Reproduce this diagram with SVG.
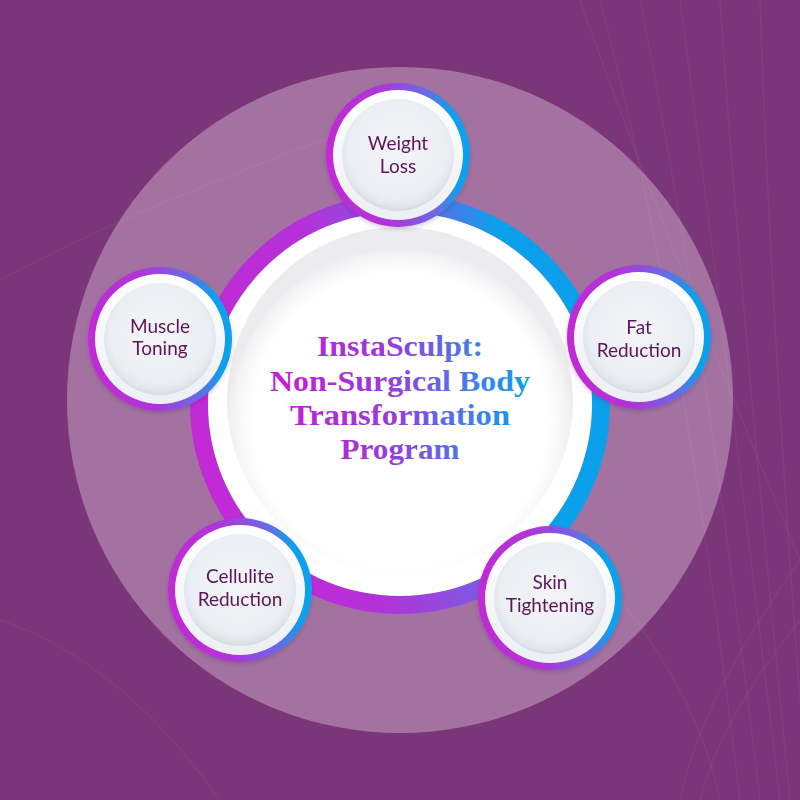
<svg xmlns="http://www.w3.org/2000/svg" width="800" height="800" viewBox="0 0 800 800">
<defs>
<linearGradient id="ringGrad" x1="0" y1="0.6" x2="1" y2="0.4">
<stop offset="0" stop-color="#C22AD6"/>
<stop offset="0.35" stop-color="#B530D9"/>
<stop offset="0.62" stop-color="#7A5CE3"/>
<stop offset="0.82" stop-color="#0BA0EC"/>
<stop offset="1" stop-color="#0BA0EC"/>
</linearGradient>
<linearGradient id="smallGrad" x1="0" y1="0.55" x2="1" y2="0.45">
<stop offset="0" stop-color="#C22AD6"/>
<stop offset="0.4" stop-color="#B133D9"/>
<stop offset="0.72" stop-color="#6C68E5"/>
<stop offset="0.9" stop-color="#0BA0EC"/>
<stop offset="1" stop-color="#0BA0EC"/>
</linearGradient>
<radialGradient id="centerDisc" cx="0.5" cy="0.56" r="0.5">
<stop offset="0.86" stop-color="#FFFFFF"/>
<stop offset="0.97" stop-color="#F3F3F5"/>
<stop offset="1" stop-color="#ECECEF"/>
</radialGradient>
<linearGradient id="whiteRing" x1="0" y1="0" x2="0" y2="1">
<stop offset="0" stop-color="#FFFFFF"/>
<stop offset="1" stop-color="#ECEFF4"/>
</linearGradient>
<radialGradient id="smallDisc" cx="0.5" cy="0.45" r="0.55">
<stop offset="0" stop-color="#F4F5F8"/>
<stop offset="0.8" stop-color="#EBEEF3"/>
<stop offset="0.93" stop-color="#E2E5EC"/>
<stop offset="1" stop-color="#D6D9E1"/>
</radialGradient>
<linearGradient id="titleGrad" gradientUnits="userSpaceOnUse" x1="270" y1="0" x2="530" y2="0">
<stop offset="0" stop-color="#C41ED4"/>
<stop offset="0.45" stop-color="#9A3ADB"/>
<stop offset="0.75" stop-color="#4C78E6"/>
<stop offset="1" stop-color="#0BA0EC"/>
</linearGradient>
<filter id="soft" x="-20%" y="-20%" width="140%" height="140%">
<feDropShadow dx="0" dy="2" stdDeviation="2" flood-color="#3A1040" flood-opacity="0.2"/>
</filter>
</defs>
<style>
.lbl{font-family:Lato,"Open Sans","Liberation Sans",sans-serif;font-size:19px;fill:#5A1656;text-anchor:middle;}
.ttl{font-family:"Liberation Serif","DejaVu Serif",serif;font-weight:bold;font-size:30px;fill:url(#titleGrad);text-anchor:middle;}
.bgl{fill:none;stroke:#FFFFFF;stroke-opacity:0.045;stroke-width:1.5;}
.ring{fill:url(#smallGrad);}
.wr{fill:url(#whiteRing);}
.disc{fill:url(#smallDisc);}
</style>
<rect x="0" y="0" width="800" height="800" fill="#7B3679"/>
<g id="background-lines">
<path class="bgl" d="M600,0 Q680,300 740,800"/>
<path class="bgl" d="M640,0 Q700,300 760,800"/>
<path class="bgl" d="M680,0 Q720,300 780,800"/>
<path class="bgl" d="M720,0 Q740,300 790,800"/>
<path class="bgl" d="M760,0 Q770,300 800,700"/>
<path class="bgl" d="M580,0 Q650,200 800,560"/>
<path class="bgl" d="M620,600 Q700,700 720,800"/>
<path class="bgl" d="M800,560 Q700,700 680,800"/>
<path class="bgl" d="M800,620 Q720,720 700,800"/>
<path class="bgl" d="M0,280 Q150,200 380,120"/>
<path class="bgl" d="M0,620 Q120,660 220,800"/>
</g>
<circle cx="400" cy="400" r="333" fill="#FFFFFF" fill-opacity="0.3"/>
<g id="connectors">
<circle cx="400" cy="404" r="201" fill="none" stroke="url(#ringGrad)" stroke-width="18"/>
</g>
<g id="center">
<circle cx="400" cy="404" r="192" fill="#FFFFFF"/>
<circle cx="400" cy="400" r="173" fill="url(#centerDisc)"/>
<text class="ttl" x="400" y="356" textLength="166" lengthAdjust="spacingAndGlyphs">InstaSculpt:</text>
<text class="ttl" x="400" y="391" textLength="260" lengthAdjust="spacingAndGlyphs">Non-Surgical Body</text>
<text class="ttl" x="400" y="425" textLength="220" lengthAdjust="spacingAndGlyphs">Transformation</text>
<text class="ttl" x="400" y="459" textLength="119" lengthAdjust="spacingAndGlyphs">Program</text>
</g>
<g id="node-weight-loss" filter="url(#soft)">
<circle class="ring" cx="398" cy="155" r="72"/>
<circle class="wr" cx="398" cy="155" r="65"/>
<circle class="disc" cx="398" cy="155" r="56"/>
<text class="lbl" x="398" y="150">Weight</text>
<text class="lbl" x="398" y="173">Loss</text>
</g>
<g id="node-fat-reduction" filter="url(#soft)">
<circle class="ring" cx="639" cy="337" r="72"/>
<circle class="wr" cx="639" cy="337" r="65"/>
<circle class="disc" cx="639" cy="337" r="56"/>
<text class="lbl" x="639" y="334">Fat</text>
<text class="lbl" x="639" y="357">Reduction</text>
</g>
<g id="node-skin-tightening" filter="url(#soft)">
<circle class="ring" cx="550" cy="598" r="72"/>
<circle class="wr" cx="550" cy="598" r="65"/>
<circle class="disc" cx="550" cy="598" r="56"/>
<text class="lbl" x="550" y="589">Skin</text>
<text class="lbl" x="550" y="612">Tightening</text>
</g>
<g id="node-cellulite-reduction" filter="url(#soft)">
<circle class="ring" cx="240" cy="590" r="72"/>
<circle class="wr" cx="240" cy="590" r="65"/>
<circle class="disc" cx="240" cy="590" r="56"/>
<text class="lbl" x="240" y="583">Cellulite</text>
<text class="lbl" x="240" y="606">Reduction</text>
</g>
<g id="node-muscle-toning" filter="url(#soft)">
<circle class="ring" cx="160" cy="339" r="72"/>
<circle class="wr" cx="160" cy="339" r="65"/>
<circle class="disc" cx="160" cy="339" r="56"/>
<text class="lbl" x="160" y="333">Muscle</text>
<text class="lbl" x="160" y="355">Toning</text>
</g>
</svg>
